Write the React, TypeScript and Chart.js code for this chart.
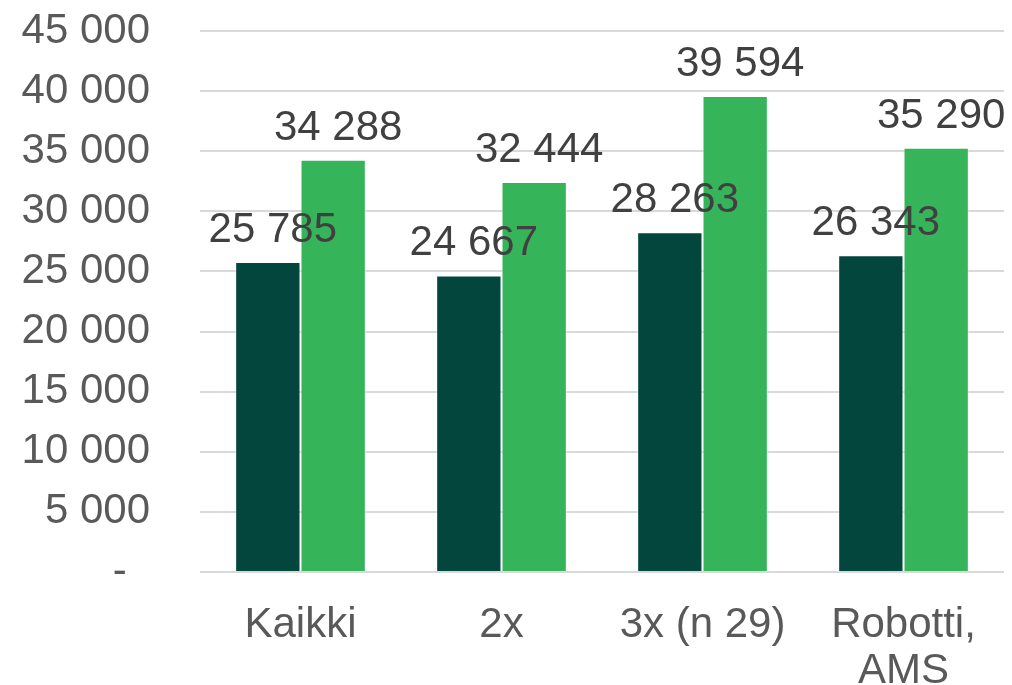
import React, { useEffect, useRef } from "react";
import { Chart, registerables } from "chart.js";

Chart.register(...registerables);

const categories: (string | string[])[] = ["Kaikki", "2x", "3x (n 29)", ["Robotti,", "AMS"]];
const seriesA: number[] = [25785, 24667, 28263, 26343];
const seriesB: number[] = [34288, 32444, 39594, 35290];
const yMax = 45000;
const yStep = 5000;

const fmt = (v: number) => {
  if (v === 0) return "-  ";
  return String(Math.round(v)).replace(/\B(?=(\d{3})+(?!\d))/g, " ");
};

const FONT = "'Liberation Sans', Arial, sans-serif";

const labelPlugin = {
  id: "valueLabels",
  afterDatasetsDraw(chart: any) {
    const ctx = chart.ctx;
    ctx.save();
    ctx.font = `42px ${FONT}`;
    ctx.fillStyle = "#404040";
    ctx.textAlign = "center";
    ctx.textBaseline = "alphabetic";
    chart.data.datasets.forEach((ds: any, i: number) => {
      const meta = chart.getDatasetMeta(i);
      meta.data.forEach((el: any, j: number) => {
        ctx.fillText(fmt(ds.data[j]), el.x + 5, el.y - 20);
      });
    });
    ctx.restore();
  },
};

export default function App() {
  const ref = useRef<HTMLCanvasElement>(null);
  useEffect(() => {
    document.body.style.margin = "0";
    const chart = new Chart(ref.current!, {
      type: "bar",
      data: {
        labels: categories,
        datasets: [
          {
            data: seriesA,
            backgroundColor: "#02463E",
            borderColor: "rgba(255,255,255,0.5)",
            borderWidth: 1,
            categoryPercentage: 0.65,
            barPercentage: 1,
          },
          {
            data: seriesB,
            backgroundColor: "#36B45A",
            borderColor: "rgba(255,255,255,0.5)",
            borderWidth: 1,
            categoryPercentage: 0.65,
            barPercentage: 1,
          },
        ],
      },
      options: {
        animation: false,
        responsive: false,
        layout: { padding: { top: 31, right: 8, left: 0, bottom: 0 } },
        plugins: { legend: { display: false }, tooltip: { enabled: false } },
        scales: {
          x: {
            grid: { display: false, drawTicks: false },
            border: { display: false },
            ticks: {
              color: "#595959",
              font: { family: FONT, size: 42, lineHeight: 1.1 },
              padding: 30,
              maxRotation: 0,
              autoSkip: false,
            },
            afterFit: (s: any) => {
              s.height = 113;
            },
          },
          y: {
            min: 0,
            max: yMax,
            grid: {
              color: "#d9d9d9",
              lineWidth: 2,
              drawTicks: true,
              tickLength: 50,
              tickColor: "rgba(0,0,0,0)",
            },
            border: { display: false },
            ticks: {
              stepSize: yStep,
              color: "#595959",
              font: { family: FONT, size: 42 },
              padding: 0,
              callback: (v: any) => fmt(Number(v)),
            },
            afterFit: (s: any) => {
              s.width = 200;
            },
          },
        },
      },
      plugins: [labelPlugin],
    });
    return () => chart.destroy();
  }, []);
  return <canvas ref={ref} width={1012} height={685} style={{ display: "block" }} />;
}
